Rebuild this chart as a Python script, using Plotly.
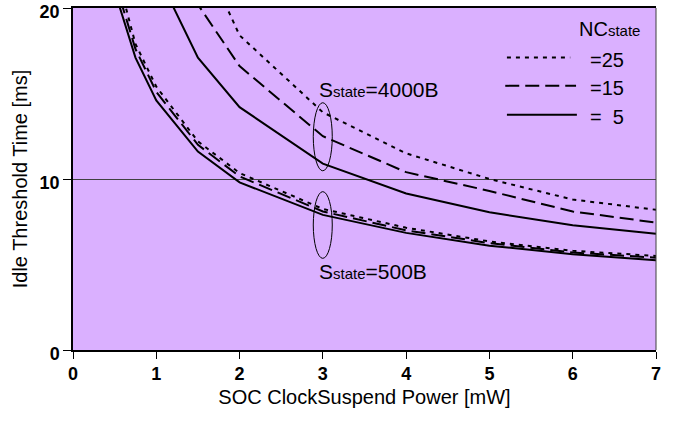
import plotly.graph_objects as go

# ---- data ----
x_500 = [0.5, 0.75, 1, 1.5, 2, 3, 4, 5, 6, 7]
y_500_nc25 = [22.5, 17.9, 15.4, 12.2, 10.35, 8.25, 7.15, 6.35, 5.8, 5.5]
y_500_nc15 = [21.6, 17.6, 15.1, 12.0, 10.15, 8.1, 7.0, 6.25, 5.7, 5.4]
y_500_nc5 = [21.0, 17.1, 14.6, 11.6, 9.8, 7.9, 6.85, 6.1, 5.6, 5.25]

x_4000 = [1, 1.5, 2, 3, 4, 5, 6, 7]
y_4000_nc25 = [30.0, 23.7, 18.4, 13.9, 11.5, 10.0, 8.8, 8.2]
y_4000_nc15 = [26.0, 20.2, 16.6, 12.5, 10.4, 9.3, 8.1, 7.45]
y_4000_nc5 = [22.1, 17.1, 14.2, 10.9, 9.15, 8.05, 7.3, 6.8]

nc_labels = ["=25", "=15", "=\u00a0\u00a05"]
x_ticks = [0, 1, 2, 3, 4, 5, 6, 7]
y_ticks = [0, 10, 20]

FONT = "Liberation Sans, Arial, sans-serif"
DOT = "4px,5px"
DASH = "14px,6px"
dashes = [DOT, DASH, "solid"]

fig = go.Figure()

series = [
    (x_4000, y_4000_nc25, DOT, "4000B NC=25"),
    (x_4000, y_4000_nc15, DASH, "4000B NC=15"),
    (x_4000, y_4000_nc5, "solid", "4000B NC=5"),
    (x_500, y_500_nc25, DOT, "500B NC=25"),
    (x_500, y_500_nc15, DASH, "500B NC=15"),
    (x_500, y_500_nc5, "solid", "500B NC=5"),
]
for xs, ys, d, name in series:
    fig.add_trace(go.Scatter(
        x=xs, y=ys, mode="lines", name=name, showlegend=False,
        line=dict(color="black", width=2, dash=d),
        hoverinfo="skip",
    ))

shapes = []
annotations = []

# legend samples (drawn inside plot, top-right)
leg_y = [17.1, 15.45, 13.75]
leg_x0 = [5.21, 5.19, 5.21]
leg_x1 = [5.97, 6.04, 6.05]
for i in range(3):
    shapes.append(dict(type="line", xref="x", yref="y",
                       x0=leg_x0[i], x1=leg_x1[i], y0=leg_y[i], y1=leg_y[i],
                       line=dict(color="black", width=2, dash=dashes[i])))
    annotations.append(dict(x=6.18, y=leg_y[i] - 0.15, xref="x", yref="y",
                            text=nc_labels[i], showarrow=False, xanchor="left",
                            yanchor="middle", font=dict(family=FONT, size=20, color="black")))
annotations.append(dict(x=6.05, y=18.8, xref="x", yref="y",
                        text='NC<span style="font-size:15px">state</span>',
                        showarrow=False, xanchor="left", yanchor="middle",
                        font=dict(family=FONT, size=20, color="black")))

# ellipses
shapes.append(dict(type="circle", xref="x", yref="y", x0=2.885, x1=3.113,
                   y0=10.48, y1=14.46, line=dict(color="black", width=1)))
shapes.append(dict(type="circle", xref="x", yref="y", x0=2.885, x1=3.113,
                   y0=5.36, y1=9.26, line=dict(color="black", width=1)))

annotations.append(dict(x=2.93, y=15.25, xref="x", yref="y",
                        text='S<span style="font-size:15px">state</span>=4000B',
                        showarrow=False, xanchor="left", yanchor="middle",
                        font=dict(family=FONT, size=21, color="black")))
annotations.append(dict(x=2.93, y=4.6, xref="x", yref="y",
                        text='S<span style="font-size:15px">state</span>=500B',
                        showarrow=False, xanchor="left", yanchor="middle",
                        font=dict(family=FONT, size=21, color="black")))

# right border (gray)
shapes.append(dict(type="line", xref="paper", yref="paper", x0=1, x1=1, y0=0, y1=1,
                   line=dict(color="#404040", width=1)))

fig.update_layout(
    width=688, height=422,
    margin=dict(l=73, r=32, t=8, b=72),
    paper_bgcolor="white",
    plot_bgcolor="#DAB0FF",
    shapes=shapes,
    annotations=annotations,
    showlegend=False,
    font=dict(family=FONT, color="black"),
)
fig.update_xaxes(
    range=[0, 7], tickvals=x_ticks, ticktext=[str(v) for v in x_ticks],
    showgrid=False, zeroline=False, automargin=False,
    showline=True, linecolor="black", linewidth=1.5, mirror=True,
    ticks="outside", ticklen=7, tickcolor="black", tickwidth=1,
    ticklabeloverflow="allow",
    tickfont=dict(family=FONT, size=18, color="black", weight="bold"),
    title=dict(text="SOC ClockSuspend Power [mW]", font=dict(family=FONT, size=20), standoff=7),
)
fig.update_yaxes(
    range=[0, 20], tickvals=y_ticks, ticktext=[str(v) for v in y_ticks],
    showgrid=True, gridcolor="#404040", gridwidth=1, zeroline=False, automargin=False,
    showline=True, linecolor="black", linewidth=1.5,
    ticks="outside", ticklen=8, tickcolor="black", tickwidth=1,
    ticklabeloverflow="allow", ticklabelshift=4,
    tickfont=dict(family=FONT, size=18, color="black", weight="bold"),
    title=dict(text="Idle Threshold Time [ms]", font=dict(family=FONT, size=20), standoff=7),
)

fig.write_html("out.html", config={"displayModeBar": False},
               post_script="document.body.style.margin='0';")
